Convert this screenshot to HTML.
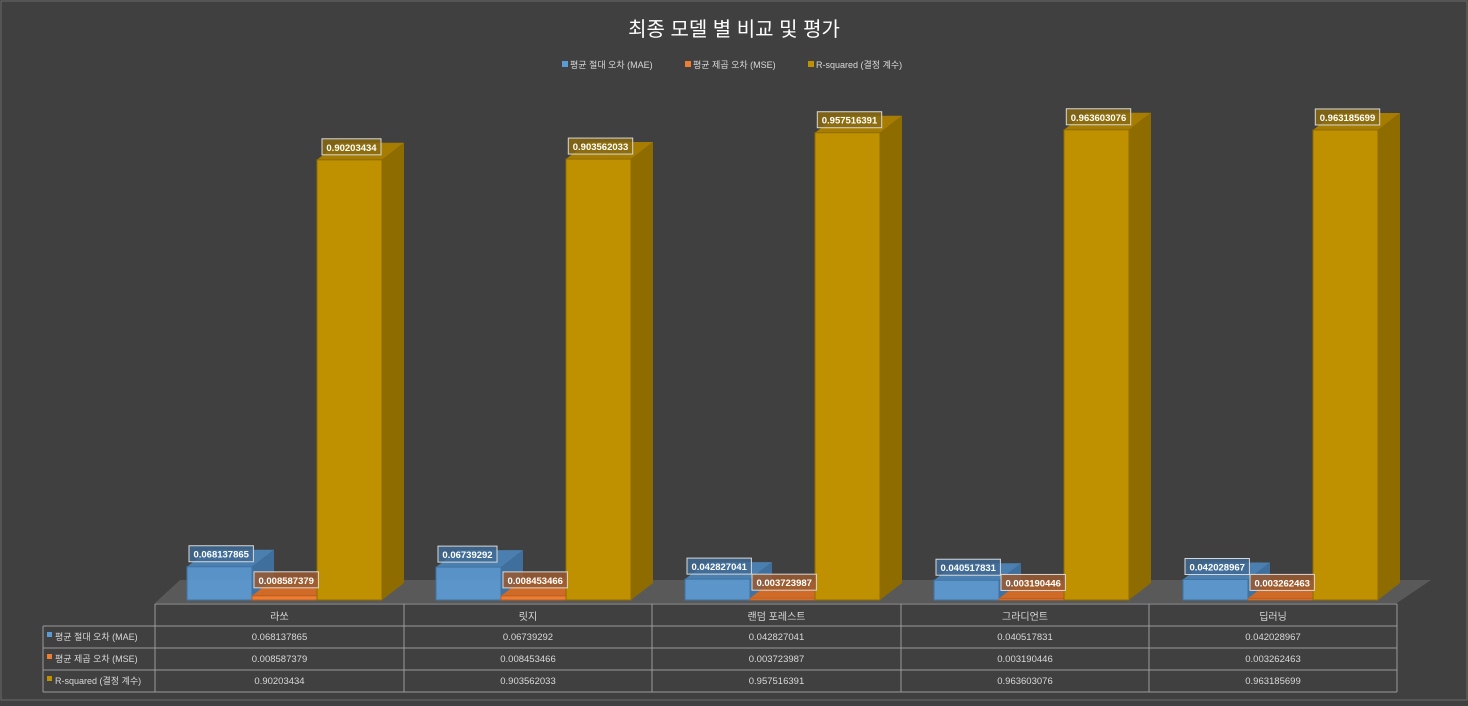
<!DOCTYPE html>
<html><head><meta charset="utf-8">
<style>
body{margin:0;background:#404040;width:1468px;height:701px;overflow:hidden;font-family:"Liberation Sans","Noto Sans CJK KR",sans-serif;}
svg text{font-family:"Liberation Sans","Noto Sans CJK KR",sans-serif;}
</style></head><body>
<svg width="1468" height="701" xmlns="http://www.w3.org/2000/svg">
<rect x="0" y="0" width="1468" height="701" fill="#404040"/>
<rect x="1" y="1" width="1466" height="699" fill="none" stroke="#6a6a6a" stroke-width="1"/>
<text x="734" y="36" fill="#fff" font-size="20" text-anchor="middle">최종 모델 별 비교 및 평가</text>
<g id="legend"></g>
<polygon points="155,603 1397,603 1431,580 180,580" fill="#595959"/>
<g id="bars"></g>
<g id="labels"></g>
<g id="table"></g>
</svg>
<script>
const categories=["라쏘","릿지","랜덤 포레스트","그라디언트","딥러닝"];
const seriesNames=["평균 절대 오차 (MAE)","평균 제곱 오차 (MSE)","R-squared (결정 계수)"];
const mae=[0.068137865,0.06739292,0.042827041,0.040517831,0.042028967];
const mse=[0.008587379,0.008453466,0.003723987,0.003190446,0.003262463];
const r2=[0.90203434,0.903562033,0.957516391,0.963603076,0.963185699];
const series=[mae,mse,r2];
const colors=[["#5b9bd5","#3f74a6","#4d86bb"],["#ed7d31","#b75d22","#d06a27"],["#bf9000","#8f6c00","#a67d00"]];
const NS="http://www.w3.org/2000/svg";
function mk(tag,attrs,parent){const e=document.createElementNS(NS,tag);for(const k in attrs)e.setAttribute(k,attrs[k]);parent.appendChild(e);return e;}
const baseY=600, scale=488, groupW=249, x0=187, barW=65, dx=22, dy=17;
const yOf=v=>baseY-v*scale;
const bars=document.getElementById('bars'), labels=document.getElementById('labels');
for(let i=0;i<categories.length;i++){
  for(let s=0;s<3;s++){
    const v=series[s][i];
    const x=x0+i*groupW+s*barW, yt=yOf(v), c=colors[s];
    const g=mk('g',{},bars);
    
    
    const op=s===0?0.9:1;
    mk('polygon',{points:`${x+barW},${yt} ${x+barW+dx},${yt-dy} ${x+barW+dx},${baseY-dy} ${x+barW},${baseY}`,fill:c[1],'fill-opacity':op},g);
    mk('polygon',{points:`${x},${yt} ${x+dx},${yt-dy} ${x+barW+dx},${yt-dy} ${x+barW},${yt}`,fill:c[2],'fill-opacity':op},g);
    mk('rect',{x:x,y:yt,width:barW,height:baseY-yt,fill:c[0],'fill-opacity':op,stroke:c[1],'stroke-width':1},g);
    const txt=String(v);
    const lw=txt.length*5.4+5;
    const ly=s===1?yt-24:yt-21;
    const lx=s===2?x+barW/2+2-lw/2:x+2;
    const lg=mk('g',{},labels);
    
    
    mk('rect',{x:lx,y:ly,width:lw,height:16,fill:s===2?'#8a6a10':(s===1?'#9a5a30':'#3f6a94'),'fill-opacity':0.85,stroke:'#d8d8d8','stroke-width':1},lg);
    const t=mk('text',{x:lx+lw/2,y:ly+12,fill:'#fff','font-size':9.5,'font-weight':'bold','text-anchor':'middle'},lg);
    t.textContent=txt;
  }
}
const leg=document.getElementById('legend');
const legX=[562,685,808];
for(let s=0;s<3;s++){
  mk('rect',{x:legX[s],y:61,width:6,height:6,fill:colors[s][0]},leg);
  const t=mk('text',{x:legX[s]+8,y:68,fill:'#d9d9d9','font-size':9},leg);
  
  
  t.textContent=seriesNames[s];
}
const tb=document.getElementById('table');
const colX=[155,404,652,901,1149,1397], rowY=[604,626,648,670,692];
const ln=(x1,y1,x2,y2)=>mk('line',{x1,y1,x2,y2,stroke:'#9a9a9a','stroke-width':1},tb);
ln(155,604,155,626);
for(let r=1;r<rowY.length;r++) ln(43,rowY[r],1397,rowY[r]);
ln(43,626,43,692);
for(const x of colX) ln(x,604,x,692);
ln(155,604,1397,604);
categories.forEach((c,i)=>{
  const t=mk('text',{x:(colX[i]+colX[i+1])/2,y:620,fill:'#d9d9d9','font-size':10,'text-anchor':'middle'},tb);
  
  
  t.textContent=c;
});
for(let s=0;s<3;s++){
  const y=rowY[s+1]+15;
  mk('rect',{x:47,y:y-9,width:5,height:5,fill:colors[s][0]},tb);
  const h=mk('text',{x:55,y:y-1,fill:'#d9d9d9','font-size':9},tb);
  
  
  h.textContent=seriesNames[s];
  for(let i=0;i<categories.length;i++){
    const t=mk('text',{x:(colX[i]+colX[i+1])/2,y:y-1,fill:'#d9d9d9','font-size':9.5,'text-anchor':'middle'},tb);
    
    
    t.textContent=String(series[s][i]);
  }
}
</script>
</body></html>
